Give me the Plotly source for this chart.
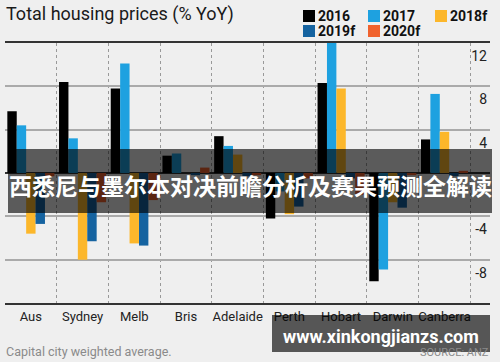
import plotly.graph_objects as go

cities = ["Aus", "Sydney", "Melb", "Bris", "Adelaide", "Perth", "Hobart", "Darwin", "Canberra"]
series_names = ["2016", "2017", "2018f", "2019f", "2020f"]
v2016 = [5.7, 8.4, 7.8, 1.6, 3.4, -4.2, 8.3, -10.0, 3.1]
v2017 = [4.4, 3.2, 10.1, 1.8, 2.5, -1.7, 13.0, -8.9, 7.3]
v2018f = [-5.6, -8.0, -6.5, 0.0, 1.7, -3.8, 7.8, -2.7, 3.8]
v2019f = [-4.7, -6.3, -6.7, -0.2, -0.3, -3.1, -0.5, -3.2, -0.3]
v2020f = [-0.3, -2.7, -2.5, 0.5, -0.2, -0.5, -2.0, -0.2, 0.2]
ytick_vals = [-8, -4, 4, 8, 12]
ytick_text = ["-8", "-4", "4", "8", "12"]

colors = ["#000000", "#1ea1e0", "#fcb72b", "#1563a0", "#f0622d"]
values = [v2016, v2017, v2018f, v2019f, v2020f]

W, H = 500, 362
ML, MR, MT, MB = 5, 10, 43, 59
PW, PH = W - ML - MR, H - MT - MB


def px(x):
    return (x - ML) / PW


def py(y):
    return (H - MB - y) / PH


fig = go.Figure()
for name, col, vals in zip(series_names, colors, values):
    fig.add_trace(go.Bar(x=cities, y=vals, name=name, marker=dict(color=col, line=dict(width=0)),
                         showlegend=False))

font_main = "Roboto, Open Sans, sans-serif"

fig.update_layout(
    width=W, height=H,
    margin=dict(l=ML, r=MR, t=MT, b=MB, autoexpand=False),
    paper_bgcolor="#efefef", plot_bgcolor="#efefef",
    barmode="group", bargap=0.09, bargroupgap=0,
    font=dict(family=font_main, color="#222"),
    xaxis=dict(
        type="category", range=[-0.5, 8.88], tickson="boundaries",
        showgrid=True, gridcolor="#999", griddash="dot", gridwidth=1,
        showline=True, mirror=True, linecolor="#333", linewidth=2,
        ticks="", tickangle=0, automargin=False,
        tickfont=dict(size=13, color="#222"), ticklabelstandoff=0,
        fixedrange=True,
    ),
    yaxis=dict(
        range=[-12, 12], side="right", tickvals=ytick_vals, ticktext=ytick_text,
        ticklabelposition="inside", ticklabelshift=13, ticklabelstandoff=0,
        showgrid=True, gridcolor="#aaa", gridwidth=1.5, automargin=False,
        zeroline=True, zerolinecolor="#333", zerolinewidth=1.5,
        showline=False, ticks="", tickfont=dict(size=14, color="#222"),
    ),
)

# Title
fig.add_annotation(xref="paper", yref="paper", x=px(4), y=py(14), xanchor="left", yanchor="middle",
                   text="Total housing prices (% YoY)", showarrow=False,
                   font=dict(size=18, color="#1a1a1a", family=font_main))

# Legend built from the series
leg_pos = [(303, 16), (368, 16), (435, 16), (303, 31), (368, 31)]
for (lx, ly), name, col in zip(leg_pos, series_names, colors):
    fig.add_shape(type="rect", xref="paper", yref="paper",
                  x0=px(lx), x1=px(lx + 12), y0=py(ly + 6), y1=py(ly - 6),
                  fillcolor=col, line=dict(width=0))
    fig.add_annotation(xref="paper", yref="paper", x=px(lx + 13), y=py(ly), xanchor="left", yanchor="middle",
                       text="<b>" + name + "</b>", showarrow=False,
                       font=dict(size=14, color="#111", family=font_main))

# Footer
fig.add_annotation(xref="paper", yref="paper", x=px(4), y=py(351), xanchor="left", yanchor="middle",
                   text="Capital city weighted average.", showarrow=False,
                   font=dict(size=12.5, color="#8a8a8a", family=font_main))
fig.add_annotation(xref="paper", yref="paper", x=px(491), y=py(352), xanchor="right", yanchor="middle",
                   text="SOURCE: ANZ", showarrow=False,
                   font=dict(size=11, color="#8a8a8a", family=font_main))

# Overlay banner
fig.add_shape(type="rect", xref="paper", yref="paper", layer="above",
              x0=px(8), x1=px(492), y0=py(213), y1=py(149),
              fillcolor="rgba(0,0,0,0.62)", line=dict(width=0))
fig.add_annotation(xref="paper", yref="paper", x=px(250), y=py(185), xanchor="center", yanchor="middle",
                   text="<b>西悉尼与墨尔本对决前瞻分析及赛果预测全解读</b>", showarrow=False,
                   font=dict(size=23, color="#ffffff", family="Noto Sans CJK SC"))

# Watermark box
fig.add_shape(type="rect", xref="paper", yref="paper", layer="above",
              x0=px(272), x1=px(490), y0=py(352), y1=py(315),
              fillcolor="rgba(0,0,0,0.64)", line=dict(width=0))
fig.add_annotation(xref="paper", yref="paper", x=px(381), y=py(336), xanchor="center", yanchor="middle",
                   text="<b>www.xinkongjianzs.com</b>", showarrow=False,
                   font=dict(size=18, color="#ffffff", family=font_main))

fig.write_html("out.html", config={"displayModeBar": False},
               post_script="document.body.style.margin='0px';document.body.style.overflow='hidden';")
